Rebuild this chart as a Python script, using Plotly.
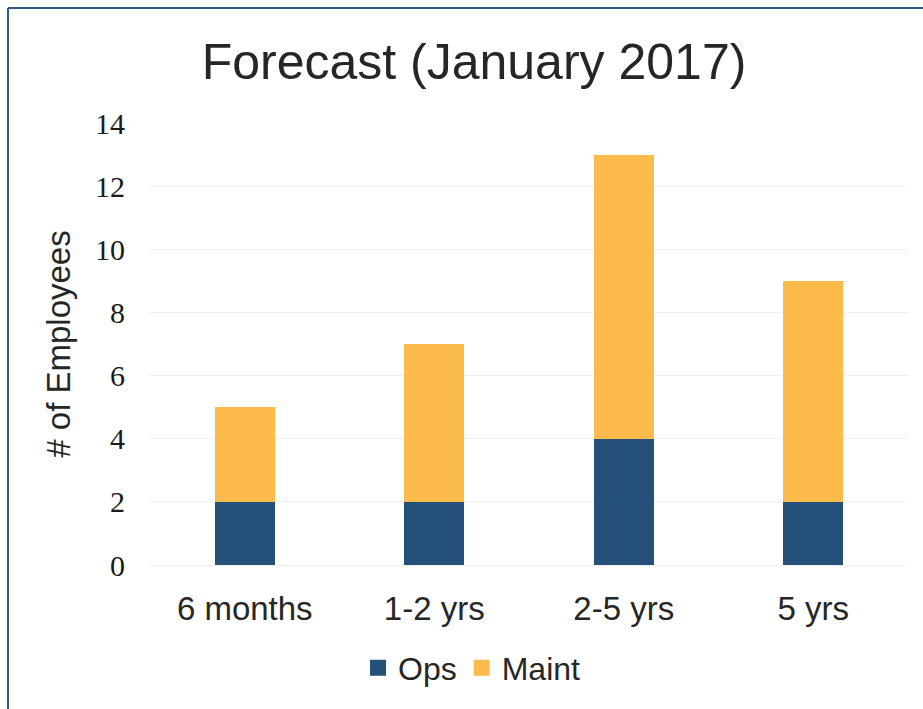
import plotly.graph_objects as go

# Forecast of employees by time horizon
categories = ["6 months", "1-2 yrs", "2-5 yrs", "5 yrs"]
ops = [2, 2, 4, 2]
maint = [3, 5, 9, 7]
y_ticks = [0, 2, 4, 6, 8, 10, 12, 14]

OPS_COLOR = "#24507A"
MAINT_COLOR = "#FDBB4C"
FRAME_COLOR = "#2E5A84"
SANS = "Liberation Sans, Arial"
SERIF = "Liberation Serif, Times New Roman"

W, H = 923, 709
ML, MR, MT, MB = 150, 15, 123, 144
pw, ph = W - ML - MR, H - MT - MB


def px_x(x):
    return (x - ML) / pw


def px_y(y):
    return 1 - (y - MT) / ph


fig = go.Figure()
# stacked bars (legend drawn by the marker-only entries below)
fig.add_trace(go.Bar(name="Ops", x=categories, y=ops, marker_color=OPS_COLOR,
                     marker_line_width=0, showlegend=False))
fig.add_trace(go.Bar(name="Maint", x=categories, y=maint, marker_color=MAINT_COLOR,
                     marker_line_width=0, showlegend=False))

# legend entries with larger square swatches
for name, color in [("Ops", OPS_COLOR), ("Maint", MAINT_COLOR)]:
    fig.add_trace(go.Scatter(name=name, x=[None], y=[None], mode="markers",
                             marker=dict(symbol="square", size=16, color=color),
                             showlegend=True))

fig.update_layout(
    width=W, height=H,
    barmode="stack",
    bargap=0.683,
    paper_bgcolor="white",
    plot_bgcolor="white",
    margin=dict(l=ML, r=MR, t=MT, b=MB),
    title=dict(text="Forecast (January 2017)", x=px_x(474), xref="paper",
               xanchor="center", y=1 - 61 / H, yanchor="middle",
               font=dict(family=SANS, size=50, color="#262626")),
    legend=dict(orientation="h", x=px_x(472), xanchor="center",
                y=px_y(668), yanchor="middle",
                font=dict(family=SANS, size=32, color="#262626"),
                itemwidth=30, traceorder="normal", itemsizing="trace",
                tracegroupgap=0),
    showlegend=True,
    shapes=[
        dict(type="line", xref="paper", yref="paper",
             x0=px_x(8), x1=px_x(923), y0=px_y(8), y1=px_y(8),
             line=dict(color=FRAME_COLOR, width=2)),
        dict(type="line", xref="paper", yref="paper",
             x0=px_x(8), x1=px_x(8), y0=px_y(8), y1=px_y(709),
             line=dict(color=FRAME_COLOR, width=2)),
    ],
)

fig.update_yaxes(
    range=[0, 14], tickvals=y_ticks, showgrid=True, gridcolor="#EFEFEF",
    gridwidth=1, zeroline=False, showline=False,
    tickfont=dict(family=SERIF, size=30, color="#1a1a1a"),
    ticklabelstandoff=24,
    title=dict(text="# of Employees", standoff=14,
               font=dict(family=SANS, size=33, color="#262626")),
)
fig.update_xaxes(
    showgrid=False, showline=True, linecolor="#EFEFEF", linewidth=1,
    tickfont=dict(family=SANS, size=33, color="#262626"),
    ticklabelstandoff=14,
)

fig.write_html("out.html")
